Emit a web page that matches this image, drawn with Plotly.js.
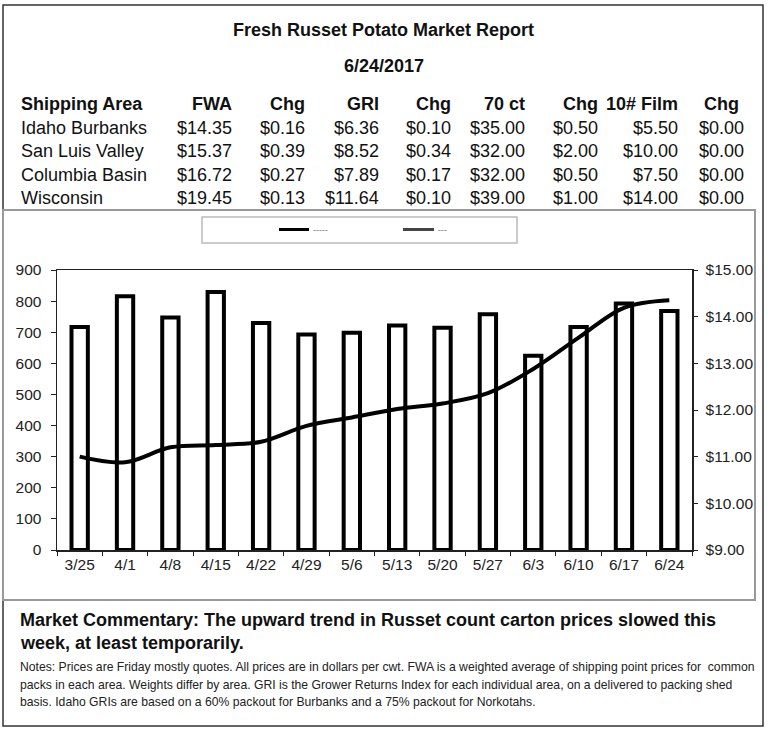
<!DOCTYPE html>
<html>
<head>
<meta charset="utf-8">
<script src="https://cdn.plot.ly/plotly-3.0.1.min.js"></script>
<style>
    body { margin: 0; background: white; }
    #plot { width: 768px; height: 733px; }
</style>
</head>
<body>
<div id="plot"></div>
<script>
// weekly data
const weeks = ["3/25", "4/1", "4/8", "4/15", "4/22", "4/29", "5/6", "5/13", "5/20", "5/27", "6/3", "6/10", "6/17", "6/24"]
const shipments = [717, 816, 747, 829, 730, 693, 698, 722, 714, 758, 624, 717, 792, 768]
const idaho_fwa = [11.00, 10.88, 11.20, 11.25, 11.32, 11.66, 11.84, 12.02, 12.14, 12.36, 12.88, 13.55, 14.19, 14.35]

// report table
const table_header = ["Shipping Area", "FWA", "Chg", "GRI", "Chg", "70 ct", "Chg", "10# Film", "Chg"]
const areas = ["Idaho Burbanks", "San Luis Valley", "Columbia Basin", "Wisconsin"]
const fwa = [14.35, 15.37, 16.72, 19.45]
const fwa_chg = [0.16, 0.39, 0.27, 0.13]
const gri = [6.36, 8.52, 7.89, 11.64]
const gri_chg = [0.10, 0.34, 0.17, 0.10]
const ct70 = [35.00, 32.00, 32.00, 39.00]
const ct70_chg = [0.50, 2.00, 0.50, 1.00]
const film = [5.50, 10.00, 7.50, 14.00]
const film_chg = [0.00, 0.00, 0.00, 0.00]

const report_title = "Fresh Russet Potato Market Report"
const report_date = "6/24/2017"
const commentary = [
    "Market Commentary: The upward trend in Russet count carton prices slowed this",
    "week, at least temporarily."
]
const notes = [
    "Notes: Prices are Friday mostly quotes. All prices are in dollars per cwt. FWA is a weighted average of shipping point prices for  common",
    "packs in each area. Weights differ by area. GRI is the Grower Returns Index for each individual area, on a delivered to packing shed",
    "basis. Idaho GRIs are based on a 60% packout for Burbanks and a 75% packout for Norkotahs."
]

// page pixels -> paper coords (plot area is 57..692 x 270..550)
const L = 57, R = 692, T = 270, B = 550
function px(x) { return (x - L) / (R - L) }
function py(y) { return (B - y) / (B - T) }

function money(v) { return "$" + v.toFixed(2) }

function text_at(x, y, text, opts) {
    opts = opts || {}
    return {
        xref: "paper", yref: "paper",
        x: px(x), y: py(y),
        text: text,
        showarrow: false,
        xanchor: opts.anchor || "left",
        yanchor: "middle",
        font: {
            family: "Arial, Liberation Sans, sans-serif",
            size: opts.size || 18,
            color: opts.color || "#111",
            weight: opts.bold ? "bold" : "normal",
        },
    }
}

let annotations = []
annotations.push(text_at(384, 30, report_title, {anchor: "center", bold: true}))
annotations.push(text_at(384, 66, report_date, {anchor: "center", bold: true}))

// table: first column left aligned, the rest right aligned
let col_right = [0, 234, 307, 381, 453, 527, 600, 680, 746]
let row_y = [127.5, 151, 174.5, 197.5]
let columns = [fwa, fwa_chg, gri, gri_chg, ct70, ct70_chg, film, film_chg]

annotations.push(text_at(19, 104, table_header[0], {bold: true}))
for (let c = 1; c < table_header.length; c++) {
    let x = c === 8 ? 741 : col_right[c]
    annotations.push(text_at(x, 104, table_header[c], {anchor: "right", bold: true}))
}
for (let r = 0; r < areas.length; r++) {
    annotations.push(text_at(19, row_y[r], areas[r]))
    for (let c = 0; c < columns.length; c++) {
        annotations.push(text_at(col_right[c + 1], row_y[r], money(columns[c][r]), {anchor: "right"}))
    }
}

// garbled legend labels from the original
annotations.push(text_at(311, 229.5, "-----", {size: 9, color: "#777"}))
annotations.push(text_at(436, 229.5, "---", {size: 9, color: "#777"}))

annotations.push(text_at(18, 620, commentary[0], {bold: true}))
annotations.push(text_at(18, 643, commentary[1], {bold: true}))
for (let i = 0; i < notes.length; i++) {
    annotations.push(text_at(18, 667 + i * 17.5, notes[i], {size: 12.2, color: "#222"}))
}

let shapes = [
    // outer frame
    {type: "rect", xref: "paper", yref: "paper", x0: px(3), x1: px(763), y0: py(5), y1: py(726),
        line: {color: "#333", width: 1.5}},
    // chart box
    {type: "rect", xref: "paper", yref: "paper", x0: px(3), x1: px(755), y0: py(210), y1: py(600),
        line: {color: "#999", width: 2}},
    // legend box
    {type: "rect", xref: "paper", yref: "paper", x0: px(202), x1: px(517), y0: py(217), y1: py(243),
        line: {color: "#bbb", width: 1.5}},
    {type: "line", xref: "paper", yref: "paper", x0: px(279), x1: px(309), y0: py(229.5), y1: py(229.5),
        line: {color: "#000", width: 3}},
    {type: "line", xref: "paper", yref: "paper", x0: px(403), x1: px(434), y0: py(229.5), y1: py(229.5),
        line: {color: "#444", width: 3}},
]

let data = [
    {
        type: "bar",
        x: weeks,
        y: shipments,
        width: 0.36,
        marker: {color: "white", line: {color: "black", width: 4}},
        cliponaxis: false,
        name: "shipments",
    },
    {
        type: "scatter",
        mode: "lines",
        x: weeks,
        y: idaho_fwa,
        yaxis: "y2",
        line: {color: "black", width: 4, shape: "spline", smoothing: 1},
        cliponaxis: false,
        name: "Idaho Burbanks FWA",
    },
]

let tick_font = {family: "Arial, Liberation Sans, sans-serif", size: 15.5, color: "#222"}

let layout = {
    width: 768,
    height: 733,
    margin: {l: L, r: 768 - R, t: T, b: 733 - B, pad: 0},
    paper_bgcolor: "white",
    plot_bgcolor: "white",
    showlegend: false,
    xaxis: {
        type: "category",
        showline: true, linecolor: "#222", linewidth: 1.5, mirror: true,
        ticks: "outside", tickson: "boundaries", ticklen: 4, tickcolor: "#222",
        tickfont: tick_font,
        showgrid: false,
        fixedrange: true,
    },
    yaxis: {
        range: [0, 900], dtick: 100,
        showline: true, linecolor: "#222", linewidth: 1.5,
        ticks: "outside", ticklen: 5, tickcolor: "#222", ticklabelstandoff: 6,
        tickfont: tick_font,
        showgrid: false, zeroline: false,
    },
    yaxis2: {
        overlaying: "y", side: "right",
        range: [9, 15], dtick: 1,
        tickprefix: "$", tickformat: ".2f",
        showline: true, linecolor: "#222", linewidth: 1.5,
        ticks: "outside", ticklen: 4, tickcolor: "#222", ticklabelstandoff: 5,
        tickfont: tick_font,
        showgrid: false, zeroline: false,
    },
    annotations: annotations,
    shapes: shapes,
}

Plotly.newPlot("plot", data, layout, {staticPlot: true})
</script>
</body>
</html>
